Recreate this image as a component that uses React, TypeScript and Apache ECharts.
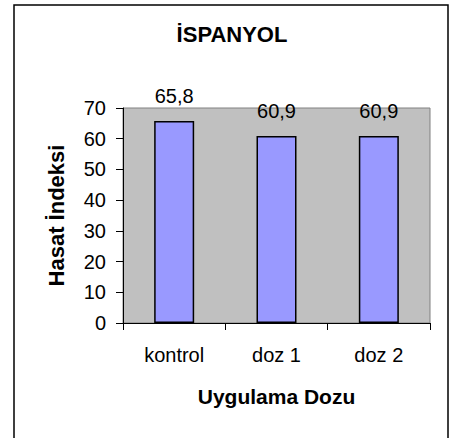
import React, { useEffect, useRef } from "react";
import * as echarts from "echarts";

const categories = ["kontrol", "doz 1", "doz 2"];
const values = [65.8, 60.9, 60.9];
const titleText = "İSPANYOL";
const yAxisName = "Hasat İndeksi";
const xAxisName = "Uygulama Dozu";

const FONT = "'Liberation Sans', Arial, sans-serif";

export default function App() {
  const ref = useRef<HTMLDivElement>(null);
  useEffect(() => {
    if (!ref.current) return;
    const chart = echarts.init(ref.current, undefined, { renderer: "svg" });
    chart.setOption({
      animation: false,
      backgroundColor: "#ffffff",
      textStyle: { fontFamily: FONT },
      title: {
        text: titleText,
        left: 232,
        textAlign: "center",
        top: 23,
        padding: 0,
        textStyle: { fontFamily: FONT, fontSize: 22, fontWeight: "bold", color: "#000" },
      },
      graphic: [
        {
          type: "rect",
          shape: { x: 14, y: 5, width: 434, height: 450 },
          style: { fill: "none", stroke: "#000", lineWidth: 1.5 },
          silent: true,
        },
      ],
      grid: {
        left: 123,
        right: 19,
        top: 108,
        bottom: 115,
        show: true,
        backgroundColor: "#C0C0C0",
        borderColor: "#808080",
        borderWidth: 1,
      },
      xAxis: {
        type: "category",
        data: categories,
        name: xAxisName,
        nameLocation: "middle",
        nameGap: 63,
        nameTextStyle: { fontFamily: FONT, fontSize: 21, fontWeight: "bold", color: "#000" },
        axisLine: { lineStyle: { color: "#000", width: 1 } },
        axisTick: { show: true, length: 7, lineStyle: { color: "#000" } },
        axisLabel: { fontFamily: FONT, fontSize: 20, color: "#000", margin: 22 },
      },
      yAxis: {
        type: "value",
        min: 0,
        max: 70,
        interval: 10,
        name: yAxisName,
        nameLocation: "middle",
        nameGap: 56,
        nameRotate: 90,
        nameTextStyle: { fontFamily: FONT, fontSize: 22, fontWeight: "bold", color: "#000" },
        axisLine: { show: true, lineStyle: { color: "#000", width: 1 } },
        axisTick: { show: true, length: 7, lineStyle: { color: "#000" } },
        axisLabel: { fontFamily: FONT, fontSize: 20, color: "#000", margin: 17 },
        splitLine: { show: false },
      },
      series: [
        {
          type: "bar",
          data: values,
          barWidth: 40,
          itemStyle: { color: "#9999FF", borderColor: "#000", borderWidth: 1.5 },
          label: {
            show: true,
            position: "top",
            distance: 15,
            fontFamily: FONT,
            fontSize: 20,
            color: "#000",
            formatter: (p: any) => String(p.value).replace(".", ","),
          },
        },
      ],
    });
    return () => chart.dispose();
  }, []);
  return (
    <div
      ref={ref}
      style={{ position: "fixed", left: 0, top: 0, width: 449, height: 438 }}
    />
  );
}
